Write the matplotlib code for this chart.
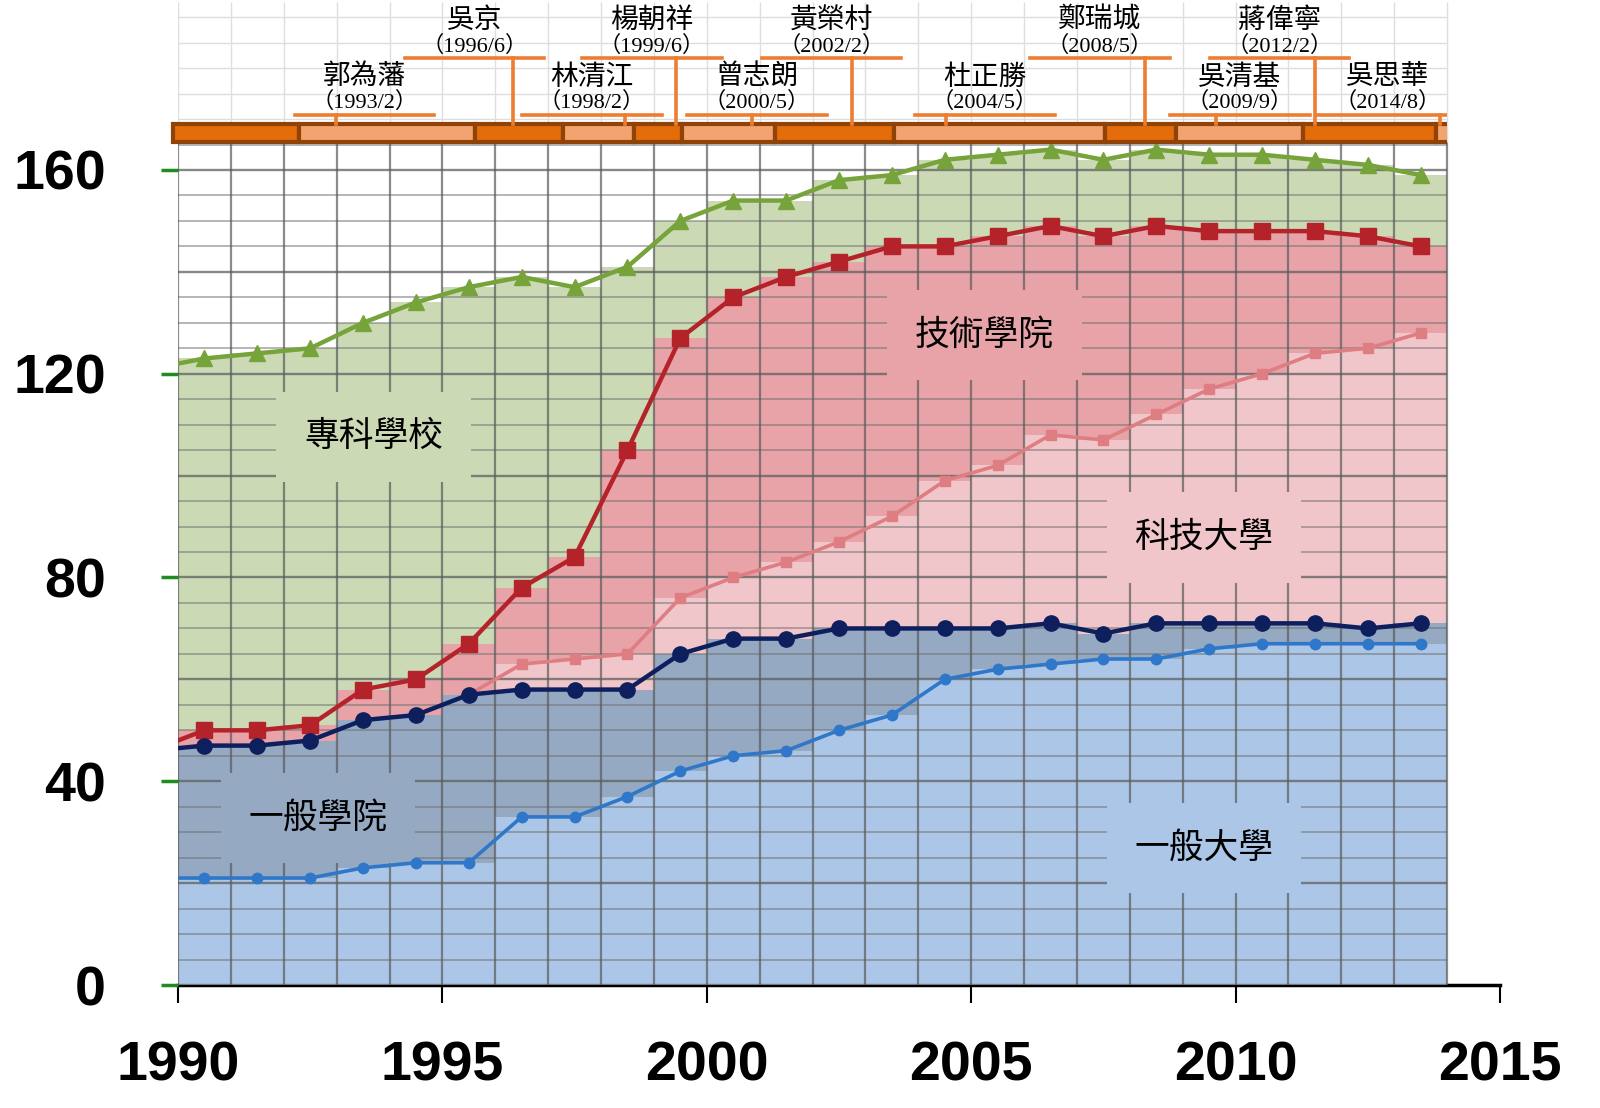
import numpy as np
import matplotlib
matplotlib.use('Agg')
import matplotlib.pyplot as plt
from matplotlib.patches import Rectangle

plt.rcParams['font.family'] = ['Noto Sans CJK TC', 'DejaVu Sans']

# school counts per academic year
years = np.arange(1990, 2015)
univ      = [21,21,21,21,23,24,24,33,33,37,42,45,46,50,53,60,62,63,64,64,66,67,67,67,67]   # 一般大學
college   = [25,26,26,27,29,29,33,25,25,21,23,23,22,20,17,10, 8, 8, 5, 7, 5, 4, 4, 3, 4]   # 一般學院
tech_univ = [ 0, 0, 0, 0, 0, 0, 0, 5, 6, 7,11,12,15,17,22,29,32,37,38,41,46,49,53,55,57]   # 科技大學
tech_coll = [ 0, 3, 3, 3, 6, 7,10,15,20,40,51,55,56,55,53,46,45,41,40,37,31,28,24,22,17]   # 技術學院
junior    = [75,73,74,74,72,74,70,61,53,36,23,19,15,16,14,17,16,15,15,15,15,15,14,14,14]   # 專科學校
tech_univ_start = 1996

# ministers of education
ministers = ['郭為藩', '吳京', '林清江', '楊朝祥', '曾志朗', '黃榮村',
             '杜正勝', '鄭瑞城', '吳清基', '蔣偉寧', '吳思華']
dates = ['1993/2', '1996/6', '1998/2', '1999/6', '2000/5', '2002/2',
         '2004/5', '2008/5', '2009/9', '2012/2', '2014/8']

# layout of the callouts (chart x units)
label_x = [1993.53, 1995.61, 1997.83, 1998.96, 2000.95, 2002.36,
           2005.26, 2007.43, 2010.08, 2010.83, 2012.87]
conn_x = [1992.99, 1996.33, 1998.45, 1999.41, 2000.85, 2002.74,
          2004.52, 2008.28, 2009.62, 2011.51, 2013.86]
shift = 0.8

c1 = np.array(univ, float)
c2 = c1 + college
c3 = c2 + tech_univ
c4 = c3 + tech_coll
c5 = c4 + junior

fig = plt.figure(figsize=(16, 11.08), dpi=100)
ax = fig.add_axes([0.11125, 0.1110, 0.82625, 0.8873])
ax.set_xlim(1990, 2015)
ax.set_ylim(0, 193)

# stepped fills
edges = np.append(years[1:] - 1, years[-1])
def st(a):
    return np.append(a[1:], a[-1])

fills = [(np.zeros(len(c1)), c1, '#abc6e6'),
         (c1, c2, '#95a9c2'),
         (c2, c3, '#f1c6ca'),
         (c3, c4, '#e7a3a8'),
         (c4, c5, '#cbdab5')]
for lo, hi, col in fills:
    ax.fill_between(edges, st(lo), st(hi), step='post', color=col, lw=0, zorder=1)

# grid
top_data = 165.5
for v in np.arange(0, 166, 5):
    if v % 20 == 0:
        ax.hlines(v, 1990, 2014, color='#5f5f5f', lw=1.7, alpha=0.75, zorder=1.5)
    else:
        ax.hlines(v, 1990, 2014, color='#707070', lw=1.2, alpha=0.6, zorder=1.5)
for v in np.arange(170, 191, 5):
    ax.hlines(v, 1990, 2014, color='#dedede', lw=1, zorder=1.5)
ax.vlines(years, 0, top_data, color='#5a5a5a', lw=1.6, alpha=0.7, zorder=1.5)
ax.vlines(years, top_data, 193, color='#dedede', lw=1, zorder=1.5)

# area labels
lab = dict(fontsize=25, ha='center', va='center', zorder=2.5)
def box(c):
    return dict(boxstyle='square,pad=0.8', fc=c, ec='none')
ax.text(1993.7, 107.6, '專科學校', bbox=box('#cbdab5'), **lab)
ax.text(2005.25, 127.6, '技術學院', bbox=box('#e7a3a8'), **lab)
ax.text(2009.4, 87.8, '科技大學', bbox=box('#f1c6ca'), **lab)
ax.text(1992.65, 32.8, '一般學院', bbox=box('#95a9c2'), **lab)
ax.text(2009.4, 26.9, '一般大學', bbox=box('#abc6e6'), **lab)

# cumulative lines, drawn at mid-year
xm = years - 0.5
k = list(years).index(tech_univ_start)
ax.plot(xm, c5, '-^', color='#76a33a', lw=3.2, ms=11, zorder=3)
ax.plot(xm, c4, '-s', color='#b5232a', lw=3.2, ms=11, zorder=3)
ax.plot(xm[k:], c3[k:], '-s', color='#df7e82', lw=2.6, ms=7.5, zorder=3)
ax.plot(xm, c2, '-o', color='#0e1f5e', lw=3.2, ms=11, zorder=3.2)
ax.plot(xm, c1, '-o', color='#2f77c9', lw=2.6, ms=7.5, zorder=3.2)

# timeline of ministers
clip = Rectangle((1989.85, 150), 2014 - 1989.85, 60, transform=ax.transData)
dec = [int(d.split('/')[0]) + (int(d.split('/')[1]) - 1) / 12 for d in dates]
seg_start = [1989.9] + [d - shift for d in dec]
seg_end = seg_start[1:] + [2015.5]
for i, (s, e) in enumerate(zip(seg_start, seg_end)):
    col = '#e46c0a' if i % 2 == 0 else '#f3a36f'
    b = ax.bar(s, 3.5, width=e - s, bottom=top_data, align='edge', color=col,
               edgecolor='#8f4306', lw=3, zorder=3)
    for p in b:
        p.set_clip_path(clip)

orange = '#ee7d31'
for i, (name, d) in enumerate(zip(ministers, dates)):
    if i % 2 == 1:
        ny, dy, ly = 189.5, 184.2, 182.0
    else:
        ny, dy, ly = 178.4, 173.3, 170.8
    lx, cx = label_x[i], conn_x[i]
    arts = []
    arts += ax.plot([lx - 1.32, lx + 1.32], [ly, ly], color=orange, lw=2.6, zorder=3.5)
    arts += ax.plot([cx, cx], [ly, top_data + 3.5], color=orange, lw=2.6, zorder=3.5)
    arts.append(ax.text(lx, ny, name, fontsize=20, ha='center', va='center', zorder=4, clip_on=True))
    arts.append(ax.text(lx, dy, '（' + d + '）', fontsize=16, ha='center', va='center', zorder=4,
                        clip_on=True, family=['Liberation Serif', 'Noto Sans CJK TC']))
    for a in arts:
        a.set_clip_path(clip)

# axes styling
for s in ['left', 'top', 'right']:
    ax.spines[s].set_visible(False)
ax.spines['bottom'].set_color('black')
ax.spines['bottom'].set_linewidth(2.5)
ax.spines['bottom'].set_zorder(0.5)

ax.set_yticks([0, 40, 80, 120, 160])
ax.set_xticks(range(1990, 2016, 5))
ax.tick_params(axis='y', direction='out', length=12, width=2.5, color='#1e8c1e', pad=40, labelsize=40)
ax.tick_params(axis='x', direction='out', length=13, width=1.5, color='black', pad=27, labelsize=40)
for t in ax.get_xticklabels() + ax.get_yticklabels():
    t.set_fontfamily('Liberation Sans')
    t.set_fontweight('bold')

fig.savefig('out.png', dpi=100)
